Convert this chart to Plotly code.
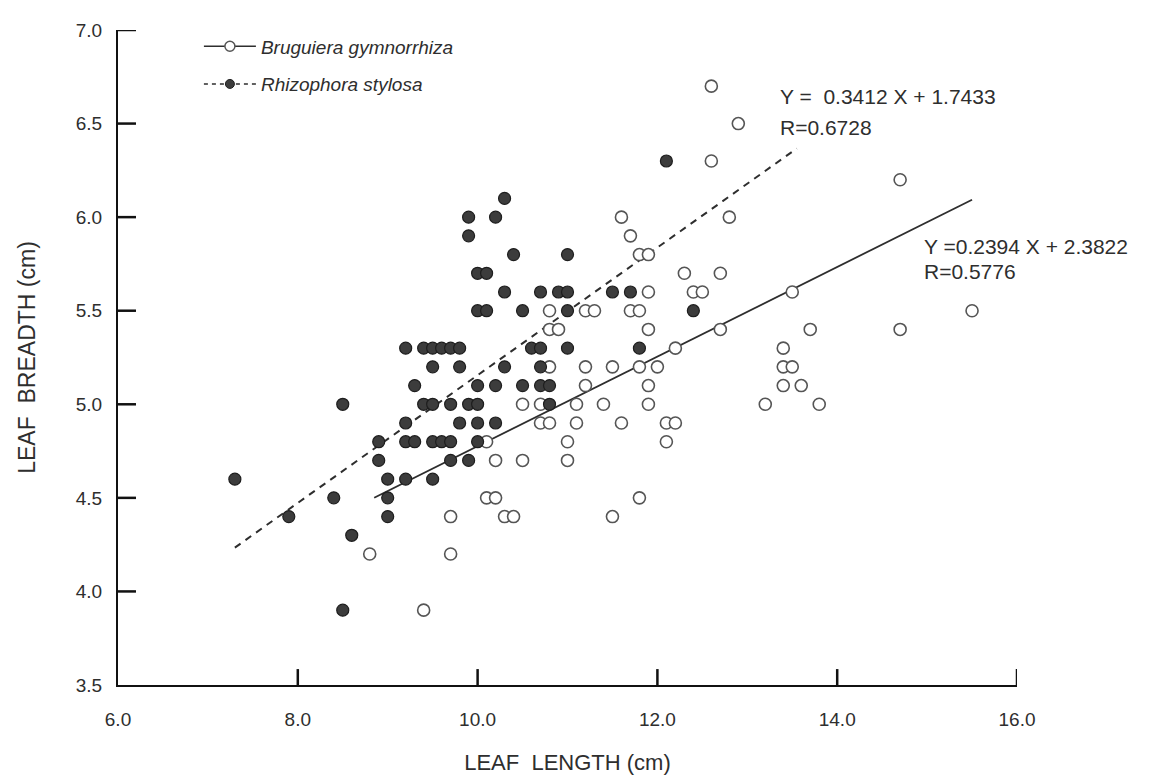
import plotly.graph_objects as go

# Rhizophora stylosa (filled circles)
rs_x = [7.3, 7.9, 8.4, 8.5, 8.5, 8.6,
        8.9, 8.9, 9.0, 9.0, 9.0,
        9.2, 9.4, 9.5, 9.6, 9.7, 9.8,
        9.5, 9.8, 9.3,
        9.4, 9.5, 9.7, 9.9, 10.0,
        9.2, 9.8, 10.0, 10.2,
        9.2, 9.3, 9.5, 9.6, 9.7, 10.0,
        9.7, 9.9, 9.2, 9.5,
        9.9, 10.2, 10.3, 9.9,
        10.4, 11.0, 10.0, 10.1,
        10.3, 10.7, 10.9, 11.0, 11.5, 11.7,
        10.0, 10.1, 10.5, 11.0, 12.4,
        10.6, 10.7, 11.0, 11.8,
        10.3, 10.7,
        10.0, 10.2, 10.5, 10.7, 10.8,
        10.8, 12.1]
rs_y = [4.6, 4.4, 4.5, 5.0, 3.9, 4.3,
        4.8, 4.7, 4.6, 4.5, 4.4,
        5.3, 5.3, 5.3, 5.3, 5.3, 5.3,
        5.2, 5.2, 5.1,
        5.0, 5.0, 5.0, 5.0, 5.0,
        4.9, 4.9, 4.9, 4.9,
        4.8, 4.8, 4.8, 4.8, 4.8, 4.8,
        4.7, 4.7, 4.6, 4.6,
        6.0, 6.0, 6.1, 5.9,
        5.8, 5.8, 5.7, 5.7,
        5.6, 5.6, 5.6, 5.6, 5.6, 5.6,
        5.5, 5.5, 5.5, 5.5, 5.5,
        5.3, 5.3, 5.3, 5.3,
        5.2, 5.2,
        5.1, 5.1, 5.1, 5.1, 5.1,
        5.0, 6.3]

# Bruguiera gymnorrhiza (open circles)
bg_x = [8.8, 9.4, 9.7, 9.7,
        10.1, 10.2, 10.5, 11.0, 11.0, 12.1,
        10.1, 10.2, 11.8,
        10.3, 10.4, 11.5,
        10.5, 10.7, 11.1, 11.4, 11.9,
        10.7, 10.8, 11.1, 11.6, 12.1, 12.2,
        10.8, 11.2, 11.5, 11.8, 12.0,
        11.2, 11.9, 12.2,
        10.8, 10.9, 11.9,
        10.8, 11.2, 11.3, 11.7, 11.8,
        11.9, 12.4, 12.5,
        12.3, 12.7, 11.8, 11.9, 11.7,
        11.6, 12.8, 12.6, 12.9, 12.6,
        14.7, 13.5, 15.5,
        12.7, 13.7, 14.7,
        13.4, 13.4, 13.5, 13.4, 13.6,
        13.2, 13.8]
bg_y = [4.2, 3.9, 4.4, 4.2,
        4.8, 4.7, 4.7, 4.8, 4.7, 4.8,
        4.5, 4.5, 4.5,
        4.4, 4.4, 4.4,
        5.0, 5.0, 5.0, 5.0, 5.0,
        4.9, 4.9, 4.9, 4.9, 4.9, 4.9,
        5.2, 5.2, 5.2, 5.2, 5.2,
        5.1, 5.1, 5.3,
        5.4, 5.4, 5.4,
        5.5, 5.5, 5.5, 5.5, 5.5,
        5.6, 5.6, 5.6,
        5.7, 5.7, 5.8, 5.8, 5.9,
        6.0, 6.0, 6.3, 6.5, 6.7,
        6.2, 5.6, 5.5,
        5.4, 5.4, 5.4,
        5.3, 5.2, 5.2, 5.1, 5.1,
        5.0, 5.0]

# Regression lines
rs_slope, rs_icpt = 0.3412, 1.7433
rs_line_x = [7.3, 13.55]
bg_slope, bg_icpt = 0.2394, 2.3822
bg_line_x = [8.85, 15.5]

x_ticks = [6.0, 8.0, 10.0, 12.0, 14.0, 16.0]
y_ticks = [3.5, 4.0, 4.5, 5.0, 5.5, 6.0, 6.5, 7.0]
X_MIN, X_MAX = 6.0, 16.0
Y_MIN, Y_MAX = 3.5, 7.0

INK = "#2e2e2e"
FONT = "Liberation Sans, Arial, sans-serif"

fig = go.Figure()

fig.add_trace(go.Scatter(
    x=rs_line_x, y=[rs_slope * v + rs_icpt for v in rs_line_x],
    mode="lines", line=dict(color=INK, width=2, dash="7px,6px"),
    showlegend=False, hoverinfo="skip"))
fig.add_trace(go.Scatter(
    x=bg_line_x, y=[bg_slope * v + bg_icpt for v in bg_line_x],
    mode="lines", line=dict(color=INK, width=1.8),
    showlegend=False, hoverinfo="skip"))

fig.add_trace(go.Scatter(
    x=bg_x, y=bg_y, mode="markers",
    marker=dict(symbol="circle", size=12, color="white",
                line=dict(color="#555555", width=1.6)),
    showlegend=False))
fig.add_trace(go.Scatter(
    x=rs_x, y=rs_y, mode="markers",
    marker=dict(symbol="circle", size=12, color="#3c3c3c",
                line=dict(color="#1e1e1e", width=1.2)),
    showlegend=False))

# inward tick marks: one short segment per tick value, on the axes' own scales
tick_len_y = 0.085  # y units (upward ticks on the x axis)
tick_len_x = 0.2    # x units (rightward ticks on the y axis)
for v in x_ticks[1:]:
    fig.add_trace(go.Scatter(
        x=[v, v], y=[Y_MIN, Y_MIN + tick_len_y], mode="lines",
        line=dict(color="#111111", width=2.5),
        showlegend=False, hoverinfo="skip"))
for v in y_ticks[1:]:
    fig.add_trace(go.Scatter(
        x=[X_MIN, X_MIN + tick_len_x], y=[v, v], mode="lines",
        line=dict(color="#111111", width=2.5),
        showlegend=False, hoverinfo="skip"))

# legend entries
fig.add_trace(go.Scatter(
    x=[None], y=[None], mode="lines+markers", name="Bruguiera gymnorrhiza",
    legendgroup="a",
    line=dict(color=INK, width=1.5),
    marker=dict(symbol="circle", size=10, color="white",
                line=dict(color="#555555", width=1.5))))
fig.add_trace(go.Scatter(
    x=[None], y=[None], mode="lines+markers", name="Rhizophora stylosa",
    legendgroup="b",
    line=dict(color=INK, width=1.5, dash="4px,4px"),
    marker=dict(symbol="circle", size=9, color="#3c3c3c",
                line=dict(color="#1e1e1e", width=1))))

ann_font = dict(family=FONT, size=21, color=INK)
fig.add_annotation(x=13.34, y=6.645, xanchor="left", yanchor="middle",
                   text="Y =  0.3412 X + 1.7433", showarrow=False, font=ann_font)
fig.add_annotation(x=13.34, y=6.48, xanchor="left", yanchor="middle",
                   text="R=0.6728", showarrow=False, font=ann_font)
fig.add_annotation(x=14.94, y=5.845, xanchor="left", yanchor="middle",
                   text="Y =0.2394 X + 2.3822", showarrow=False, font=ann_font)
fig.add_annotation(x=14.94, y=5.71, xanchor="left", yanchor="middle",
                   text="R=0.5776", showarrow=False, font=ann_font)

fig.update_layout(
    width=1149, height=775,
    margin=dict(l=110, r=140, t=20, b=95),
    paper_bgcolor="white", plot_bgcolor="white",
    font=dict(family=FONT, size=18, color=INK),
    legend=dict(x=0.09, y=1.004, xanchor="left", yanchor="top",
                bgcolor="rgba(0,0,0,0)", tracegroupgap=10,
                font=dict(family=FONT, size=19, color=INK, style="italic"),
                itemwidth=52),
    xaxis=dict(range=[X_MIN, X_MAX], tickmode="array", tickvals=x_ticks,
               ticktext=[f"{v:.1f}" for v in x_ticks],
               showgrid=False, zeroline=False,
               showline=True, linecolor="#111111", linewidth=2,
               ticks="", ticklabelstandoff=16,
               tickfont=dict(family=FONT, size=19, color=INK),
               title=dict(text="LEAF  LENGTH (cm)", standoff=26,
                          font=dict(family=FONT, size=22, color=INK))),
    yaxis=dict(range=[Y_MIN, Y_MAX], tickmode="array", tickvals=y_ticks,
               ticktext=[f"{v:.1f}" for v in y_ticks],
               showgrid=False, zeroline=False,
               showline=True, linecolor="#111111", linewidth=2,
               ticks="", ticklabelstandoff=10,
               tickfont=dict(family=FONT, size=19, color=INK),
               title=dict(text="LEAF  BREADTH (cm)", standoff=34,
                          font=dict(family=FONT, size=23, color=INK))),
)

fig.write_html("out.html")
